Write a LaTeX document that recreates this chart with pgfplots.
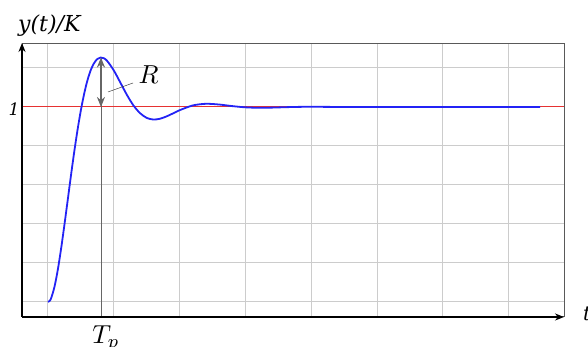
\documentclass[border=0pt]{standalone}
\usepackage{pgfplots}
\pgfplotsset{compat=1.18}
\usepackage{fontspec}
\newfontfamily\dvs{DejaVu Serif}
\usetikzlibrary{arrows.meta}

\definecolor{resp}{RGB}{35,35,245}
\definecolor{steadyred}{RGB}{230,50,50}

\begin{document}
\begin{tikzpicture}[x=1pt,y=1pt]
\begin{axis}[
  at={(0,0)}, anchor=south west,
  scale only axis, width=542pt, height=273pt,
  xmin=-0.395, xmax=7.842, ymin=-0.077, ymax=1.323,
  xtick={0,1,...,7}, ytick={0,0.2,0.4,0.6,0.8,1.2},
  xticklabels={}, yticklabels={},
  tick style={draw=none},
  grid=major,
  grid style={line width=1pt, color=black!20},
  axis line style={draw=black!65, line width=1pt},
  clip=false,
]
% steady-state level
\addplot[draw=steadyred, line width=1pt] coordinates {(-0.395,1) (7.842,1)};
% peak time marker
\addplot[black!60, line width=0.7pt] coordinates {(0.805,-0.077) (0.805,1.2538)};
% unit step response, zeta about 0.4
\addplot[resp, line width=1.8pt, smooth] coordinates {
 (0,0) (0.025,0.0055) (0.05,0.0213) (0.1,0.0797) (0.15,0.1671) (0.2,0.2753)
 (0.25,0.3964) (0.3,0.5231) (0.35,0.6509) (0.4,0.7724) (0.45,0.8846)
 (0.5,0.9838) (0.55,1.0682) (0.6,1.1371) (0.65,1.1893) (0.7,1.2247)
 (0.75,1.2460) (0.8,1.2538) (0.85,1.2498) (0.9,1.2359) (1.0,1.1876)
 (1.1,1.1249) (1.2,1.0617) (1.3,1.0073) (1.4,0.9680) (1.5,0.9441)
 (1.6,0.9357) (1.7,0.9395) (1.8,0.9514) (1.9,0.9671) (2.0,0.9833)
 (2.2,1.0078) (2.4,1.0163) (2.6,1.0126) (2.8,1.0045) (3.0,0.9982)
 (3.2,0.9959) (3.4,0.9967) (3.6,0.9988) (3.8,1.0004) (4.0,1.0010)
 (4.5,1.0000) (5.0,1.0000) (5.5,1.0000) (6.0,1.0000) (6.5,1.0000)
 (7.0,1.0000) (7.48,1.0000)
};
% overshoot arrow and its label
\draw[{Stealth[length=10pt,width=8pt]}-{Stealth[length=10pt,width=8pt]}, black!60, line width=2.2pt]
  (axis cs:0.805,1.2538) -- (axis cs:0.805,1.0);
\draw[black!75, line width=0.5pt] (axis cs:0.912,1.077) -- (axis cs:1.292,1.123);
\node[inner sep=0pt, scale=2.6] at (axis cs:1.53,1.165) {$R$};
\end{axis}
% axes with arrows
\draw[-{Stealth[length=9pt,width=7pt]}, line width=2pt] (0,0) -- (0,274);
\draw[-{Stealth[length=9pt,width=7pt]}, line width=2pt] (0,0) -- (542,0);
% labels
\node[anchor=north west, inner sep=0pt] at (-4,302) {\fontsize{22}{25}\selectfont\dvs\itshape y(t)/K};
\node[inner sep=0pt] at (-8,208) {\fontsize{17}{19}\selectfont\dvs\itshape 1};
\node[anchor=west, inner sep=0pt] at (561,3) {\fontsize{20}{22}\selectfont\dvs\itshape t};
\node[anchor=north, inner sep=0pt, scale=2.6] at (84,-8) {$T_p$};
\pgfresetboundingbox
\useasboundingbox (-22,-30) rectangle (566,317);
\end{tikzpicture}
\end{document}
